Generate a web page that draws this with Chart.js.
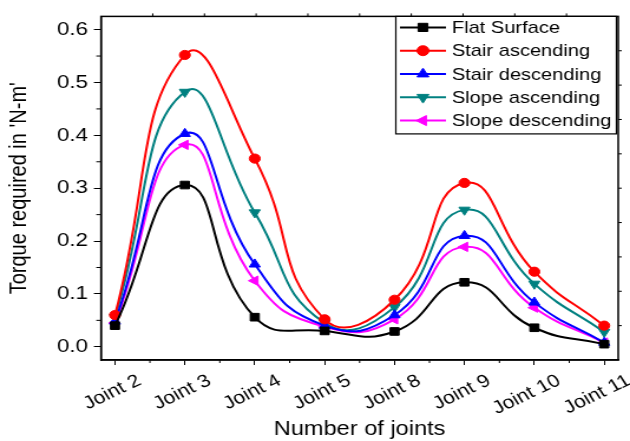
<!DOCTYPE html>
<html lang="en">
<head>
    <meta charset="UTF-8">
    <title>Torque per joint</title>
    <style>
        * { margin: 0; padding: 0; box-sizing: border-box; }
        body { background: #fff; overflow: hidden; }
        /* the source figure is stretched sideways a little, so we do the same */
        #wrap {
            width: 534px;
            height: 441px;
            transform: scaleX(1.1798);
            transform-origin: 0 0;
        }
    </style>
</head>
<body>
    <div id="wrap"><canvas id="torqueChart"></canvas></div>

    <script src="https://cdn.jsdelivr.net/npm/chart.js"></script>
    <script>
        // data
        const joints = ['Joint 2', 'Joint 3', 'Joint 4', 'Joint 5', 'Joint 8', 'Joint 9', 'Joint 10', 'Joint 11'];
        const flatSurface     = [0.040, 0.306, 0.056, 0.030, 0.029, 0.122, 0.036, 0.005];
        const stairAscending  = [0.060, 0.552, 0.356, 0.052, 0.089, 0.310, 0.142, 0.040];
        const stairDescending = [0.048, 0.403, 0.156, 0.040, 0.060, 0.210, 0.084, 0.008];
        const slopeAscending  = [0.056, 0.482, 0.254, 0.045, 0.075, 0.259, 0.119, 0.028];
        const slopeDescending = [0.045, 0.382, 0.125, 0.038, 0.052, 0.189, 0.074, 0.008];
        const yTicks = [0.0, 0.1, 0.2, 0.3, 0.4, 0.5, 0.6];

        function toPoints(values) {
            return values.map((v, i) => ({ x: i, y: v }));
        }

        function series(label, values, color, style, rotation) {
            return {
                label: label,
                data: toPoints(values),
                borderColor: color,
                backgroundColor: color,
                borderWidth: 2,
                pointStyle: style,
                pointRotation: rotation,
                pointRadius: style === 'circle' ? 4.6 : 5.4,
                pointBorderWidth: 1,
                tension: 0.5,
                fill: false
            };
        }

        // frame, minor ticks and the boxed legend inside the plot
        const decorations = {
            id: 'decorations',
            afterDraw(chart) {
                const ctx = chart.ctx;
                const ca = chart.chartArea;
                const xs = chart.scales.x;
                const ys = chart.scales.y;
                ctx.save();
                ctx.strokeStyle = '#000';
                ctx.lineWidth = 1.5;
                ctx.strokeRect(ca.left, ca.top, ca.right - ca.left, ca.bottom - ca.top);

                ctx.lineWidth = 1;
                ctx.beginPath();
                // minor ticks
                for (let v = 0.05; v < 0.62; v += 0.1) {
                    const y = ys.getPixelForValue(v);
                    ctx.moveTo(ca.left, y);
                    ctx.lineTo(ca.left - 4, y);
                }
                for (let i = 0; i < joints.length - 1; i++) {
                    const x = xs.getPixelForValue(i + 0.5);
                    ctx.moveTo(x, ca.bottom);
                    ctx.lineTo(x, ca.bottom + 3);
                }
                // top and right axes
                for (let k = 1; k < 10; k++) {
                    const x = ca.left + (ca.right - ca.left) * k / 10;
                    ctx.moveTo(x, ca.top);
                    ctx.lineTo(x, ca.top - 3);
                    const y = ca.top + (ca.bottom - ca.top) * k / 10;
                    ctx.moveTo(ca.right, y);
                    ctx.lineTo(ca.right + 3, y);
                }
                ctx.stroke();

                // legend
                const sets = chart.data.datasets;
                const right = ca.right - 1.5;
                const left = right - 187;
                const top = ca.top;
                const rowH = 23.3;
                const bottom = top + 11 + rowH * sets.length - 10;
                ctx.fillStyle = '#fff';
                ctx.fillRect(left, top, right - left, bottom - top);
                ctx.strokeStyle = '#000';
                ctx.lineWidth = 1.2;
                ctx.strokeRect(left, top, right - left, bottom - top);

                ctx.font = '17px "Liberation Sans", Arial, sans-serif';
                ctx.textBaseline = 'middle';
                ctx.textAlign = 'left';
                sets.forEach((ds, i) => {
                    const y = top + 11 + i * rowH;
                    ctx.strokeStyle = ds.borderColor;
                    ctx.lineWidth = 2;
                    ctx.beginPath();
                    ctx.moveTo(left + 3.5, y);
                    ctx.lineTo(left + 42.5, y);
                    ctx.stroke();
                    ctx.fillStyle = ds.backgroundColor;
                    ctx.lineWidth = 1;
                    Chart.helpers.drawPoint(ctx, {
                        pointStyle: ds.pointStyle,
                        rotation: ds.pointRotation,
                        radius: ds.pointRadius + 0.4,
                        borderWidth: 1
                    }, left + 23, y);
                    ctx.fillStyle = '#000';
                    ctx.fillText(ds.label, left + 47.5, y + 1);
                });
                ctx.restore();
            }
        };

        const ctx = document.getElementById('torqueChart').getContext('2d');
        const torqueChart = new Chart(ctx, {
            type: 'line',
            data: {
                datasets: [
                    series('Flat Surface', flatSurface, '#000000', 'rect', 0),
                    series('Stair ascending', stairAscending, '#ff0000', 'circle', 0),
                    series('Stair descending', stairDescending, '#0000ff', 'triangle', 0),
                    series('Slope ascending', slopeAscending, '#008080', 'triangle', 180),
                    series('Slope descending', slopeDescending, '#ff00ff', 'triangle', -90)
                ]
            },
            options: {
                responsive: true,
                maintainAspectRatio: false,
                animation: false,
                layout: { padding: { top: 13, right: 10, left: 0, bottom: 0 } },
                plugins: {
                    legend: { display: false },
                    tooltip: { enabled: false }
                },
                scales: {
                    x: {
                        type: 'linear',
                        min: -0.2,
                        max: 7.2,
                        afterBuildTicks(scale) {
                            scale.ticks = joints.map((j, i) => ({ value: i }));
                        },
                        afterFit(scale) { scale.height = 81; },
                        grid: {
                            drawOnChartArea: false,
                            color: '#000',
                            tickLength: 5,
                            tickWidth: 1
                        },
                        border: { color: '#000', width: 1.5 },
                        ticks: {
                            color: '#000',
                            padding: 5,
                            labelOffset: 21,
                            minRotation: 29,
                            maxRotation: 29,
                            font: { family: '"Liberation Sans", Arial, sans-serif', size: 18 },
                            callback: (value) => joints[value]
                        },
                        title: {
                            display: true,
                            text: 'Number of joints',
                            color: '#000',
                            padding: { top: 0, bottom: 0 },
                            font: { family: '"Liberation Sans", Arial, sans-serif', size: 20 }
                        }
                    },
                    y: {
                        min: -0.025,
                        max: 0.625,
                        afterBuildTicks(scale) {
                            scale.ticks = yTicks.map(v => ({ value: v }));
                        },
                        afterFit(scale) { scale.width = 85.6; },
                        grid: {
                            drawOnChartArea: false,
                            color: '#000',
                            tickLength: 6,
                            tickWidth: 1
                        },
                        border: { color: '#000', width: 1.5 },
                        ticks: {
                            color: '#000',
                            padding: 5,
                            font: { family: '"Liberation Sans", Arial, sans-serif', size: 19 },
                            callback: (value) => value.toFixed(1)
                        },
                        title: {
                            display: true,
                            text: "Torque required in 'N-m'",
                            color: '#000',
                            padding: { top: 4, bottom: 4 },
                            font: { family: '"Liberation Sans", Arial, sans-serif', size: 20 }
                        }
                    }
                }
            },
            plugins: [decorations]
        });
    </script>
</body>
</html>
